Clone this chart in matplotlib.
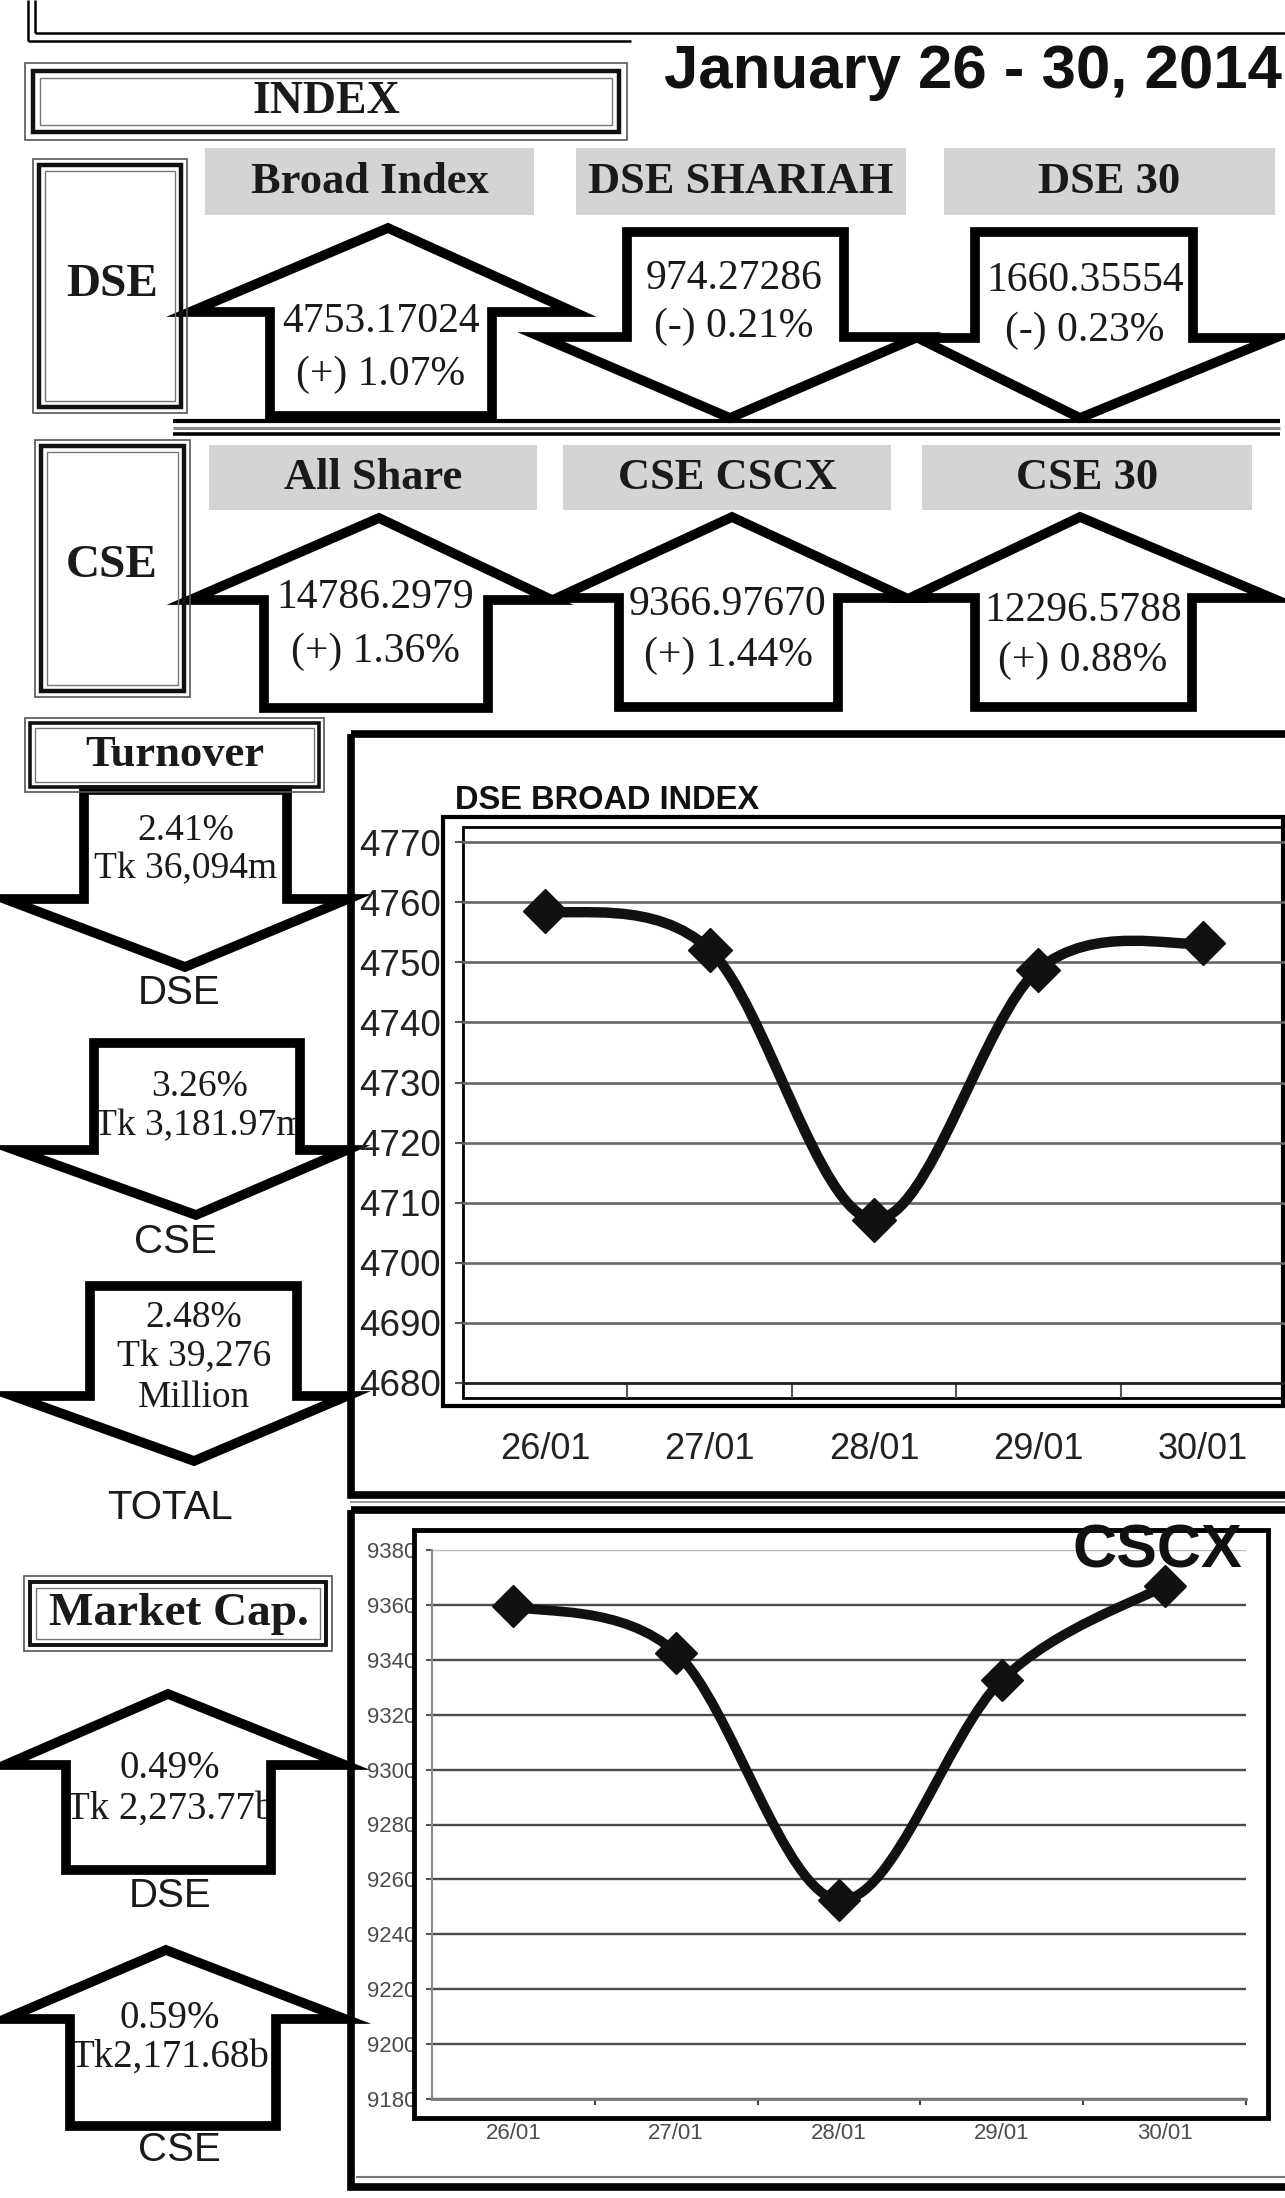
import numpy as np
import matplotlib
matplotlib.use("Agg")
import matplotlib.pyplot as plt
from matplotlib.patches import Polygon, Rectangle, PathPatch
from matplotlib.path import Path

W, H = 1285, 2198

# ---- chart data ----
days = ["26/01", "27/01", "28/01", "29/01", "30/01"]
dse_broad = [4758.6, 4752.1, 4707.2, 4748.8, 4753.17]
cscx = [9359.5, 9342.5, 9252.5, 9332.6, 9366.98]

# ---- index panel ----
dse_names = ["Broad Index", "DSE SHARIAH", "DSE 30"]
dse_values = ["4753.17024", "974.27286", "1660.35554"]
dse_changes = ["(+) 1.07%", "(-) 0.21%", "(-) 0.23%"]
cse_names = ["All Share", "CSE CSCX", "CSE 30"]
cse_values = ["14786.2979", "9366.97670", "12296.5788"]
cse_changes = ["(+) 1.36%", "(+) 1.44%", "(+) 0.88%"]

# ---- turnover / market cap ----
turnover_labels = ["DSE", "CSE", "TOTAL"]
turnover_lines = [["2.41%", "Tk 36,094m"],
                  ["3.26%", "Tk 3,181.97m"],
                  ["2.48%", "Tk 39,276", "Million"]]
mcap_labels = ["DSE", "CSE"]
mcap_lines = [["0.49%", "Tk 2,273.77b"], ["0.59%", "Tk2,171.68b"]]

SERIF = "Liberation Serif"
SANS = "Liberation Sans"

fig = plt.figure(figsize=(W / 100, H / 100), dpi=100)
ax0 = fig.add_axes([0, 0, 1, 1])
ax0.set_xlim(0, W)
ax0.set_ylim(H, 0)
ax0.axis("off")


def line(ax, xs, ys, lw=2.0, color="black", z=5):
    ax.plot(xs, ys, color=color, lw=lw, solid_capstyle="butt", zorder=z)


def framed(ax, x0, y0, x1, y1, gaps=(0, 7, 14), lws=(1.2, 3.2, 1.0)):
    cols = ("#555555", "#111111", "#777777")
    for g, lw, c in zip(gaps, lws, cols):
        ax.add_patch(Rectangle((x0 + g, y0 + g), x1 - x0 - 2 * g, y1 - y0 - 2 * g,
                               fill=False, ec=c, lw=lw, zorder=5))


def arrow(ax, shaft, head, tip, head_y, end_y, lw=7):
    sl, sr = shaft
    hl, hr = head
    pts = [(sl, end_y), (sl, head_y), (hl, head_y), tip, (hr, head_y), (sr, head_y), (sr, end_y)]
    ax.add_patch(Polygon(pts, closed=True, fc="white", ec="none", zorder=2))
    ax.add_patch(Polygon(pts, closed=True, fill=False, ec="black", lw=lw,
                         joinstyle="miter", zorder=4))


def txt(ax, x, y, s, size, family=SERIF, weight="normal", color="#1a1a1a", **kw):
    ax.text(x, y, s, fontsize=size, family=family, fontweight=weight, color=color,
            ha=kw.pop("ha", "center"), va=kw.pop("va", "center"), zorder=3, **kw)


# top banner box
line(ax0, [28, 28], [0, 41], lw=1.8)
line(ax0, [35, 35], [0, 33], lw=1.8)
line(ax0, [35, W], [33, 33], lw=1.8)
line(ax0, [28, 631], [41, 41], lw=1.8)
txt(ax0, 664, 88, "January 26 - 30, 2014", 44.5, family=SANS, weight="bold",
    color="#111111", ha="left", va="baseline")

# INDEX header
framed(ax0, 25, 63, 627, 140, gaps=(0, 8, 15))
txt(ax0, 326, 102, "INDEX", 33, weight="bold")

# DSE / CSE side boxes
framed(ax0, 33, 159, 187, 413, gaps=(0, 6, 12))
txt(ax0, 112, 285, "DSE", 34, weight="bold")
framed(ax0, 35, 440, 190, 697, gaps=(0, 6, 12))
txt(ax0, 112, 566, "CSE", 34, weight="bold")

# gray name tabs
dse_tabs = [(205, 534), (576, 906), (944, 1275)]
cse_tabs = [(209, 537), (563, 891), (922, 1252)]
for (a, b), name in zip(dse_tabs, dse_names):
    ax0.add_patch(Rectangle((a, 148), b - a, 67, fc="#d4d4d4", ec="none", zorder=1))
    txt(ax0, (a + b) / 2, 182, name, 32, weight="bold")
for (a, b), name in zip(cse_tabs, cse_names):
    ax0.add_patch(Rectangle((a, 445), b - a, 65, fc="#d4d4d4", ec="none", zorder=1))
    txt(ax0, (a + b) / 2, 478, name, 32, weight="bold")

# DSE index arrows
arrow(ax0, (270, 492), (190, 574), (388, 228), 312, 416)
arrow(ax0, (627, 844), (541, 918), (730, 418), 337, 232)
arrow(ax0, (975, 1193), (918, 1275), (1080, 418), 338, 232)
dse_text_pos = [(381, 322, 375), (734, 279, 327), (1085, 281, 331)]
for (x, y1, y2), v, c in zip(dse_text_pos, dse_values, dse_changes):
    txt(ax0, x, y1, v, 30)
    txt(ax0, x, y2, c, 30)

# separator between DSE and CSE rows
line(ax0, [173, 1280], [421, 421], lw=3.0)
line(ax0, [173, 1280], [428, 428], lw=2.2, color="#8a8a8a")
line(ax0, [173, 1280], [434, 434], lw=2.6)

# CSE index arrows
arrow(ax0, (264, 488), (190, 552), (379, 518), 600, 708)
arrow(ax0, (619, 838), (557, 906), (732, 517), 598, 707)
arrow(ax0, (975, 1192), (910, 1272), (1080, 517), 598, 707)
cse_text_pos = [(375, 598, 652), (728, 605, 656), (1083, 611, 661)]
for (x, y1, y2), v, c in zip(cse_text_pos, cse_values, cse_changes):
    txt(ax0, x, y1, v, 30)
    txt(ax0, x, y2, c, 30)

# Turnover section
framed(ax0, 25, 718, 324, 792, gaps=(0, 5, 10), lws=(1.2, 2.6, 1.0))
txt(ax0, 175, 755, "Turnover", 32, weight="bold")
t_arrows = [((84, 287), (5, 348), (185, 967), 899, 790),
            ((94, 300), (15, 347), (196, 1215), 1150, 1043),
            ((90, 297), (13, 347), (194, 1461), 1396, 1286)]
t_text_y = [[831, 869], [1087, 1126], [1318, 1357, 1398]]
t_text_x = [186, 200, 194]
t_label_pos = [(179, 993), (175, 1242), (170, 1508)]
for a, ys, x, lines_, lab, (lx, ly) in zip(t_arrows, t_text_y, t_text_x, turnover_lines,
                                           turnover_labels, t_label_pos):
    arrow(ax0, *a)
    for yy, s in zip(ys, lines_):
        txt(ax0, x, yy, s, 27)
    txt(ax0, lx, ly, lab, 29, family=SANS)

# Market cap section
framed(ax0, 24, 1576, 332, 1651, gaps=(0, 6, 12), lws=(1.2, 2.8, 1.0))
txt(ax0, 179, 1614, "Market Cap.", 34, weight="bold")
m_arrows = [((66, 271), (5, 345), (168, 1694), 1765, 1870),
            ((70, 276), (5, 345), (166, 1950), 2019, 2126)]
m_text_y = [[1769, 1809], [2019, 2057]]
m_label_pos = [(170, 1896), (179, 2150)]
for a, ys, lines_, lab, (lx, ly) in zip(m_arrows, m_text_y, mcap_lines, mcap_labels, m_label_pos):
    arrow(ax0, *a)
    for yy, s in zip(ys, lines_):
        txt(ax0, 170, yy, s, 28)
    txt(ax0, lx, ly, lab, 29, family=SANS)

# chart panels
ax0.add_patch(Rectangle((351, 734), 1000, 761, fill=False, ec="black", lw=5.5, zorder=5))
line(ax0, [350, W], [1502, 1502], lw=1.2, color="#888888")
ax0.add_patch(Rectangle((351, 1510), 1000, 677, fill=False, ec="black", lw=5.5, zorder=5))
line(ax0, [356, W], [2177, 2177], lw=1.5, color="#777777")

# DSE chart frame
ax0.add_patch(Rectangle((443, 817), 1283 - 443, 1406 - 817, fill=False, ec="black", lw=3.0, zorder=5))
ax0.add_patch(Rectangle((463, 827), 1283 - 463, 1398 - 827, fill=False, ec="black", lw=2.0, zorder=5))
txt(ax0, 455, 809, "DSE BROAD INDEX", 23.5, family=SANS, weight="bold",
    color="#111111", ha="left", va="baseline")


def smooth_path(xs, ys):
    pts = np.column_stack([xs, ys]).astype(float)
    ext = np.vstack([pts[0], pts, pts[-1]])
    verts = [tuple(pts[0])]
    codes = [Path.MOVETO]
    for i in range(len(pts) - 1):
        p0, p1, p2, p3 = ext[i], ext[i + 1], ext[i + 2], ext[i + 3]
        verts += [tuple(p1 + (p2 - p0) / 6), tuple(p2 - (p3 - p1) / 6), tuple(p2)]
        codes += [Path.CURVE4] * 3
    return Path(verts, codes)


x = np.arange(len(days))

# DSE broad index chart
ax1 = fig.add_axes([463 / W, 1 - 1383 / H, (1285 - 463) / W, (1383 - 827) / H], zorder=2)
ax1.set_facecolor("none")
ax1.set_xlim(-0.5, 4.5)
ax1.set_ylim(4680, 4680 + 556 / 6.01)
ax1.set_yticks(range(4680, 4771, 10))
ax1.set_xticks(x)
ax1.set_xticklabels(days)
ax1.set_xticks([0.5, 1.5, 2.5, 3.5], minor=True)
ax1.tick_params(axis="x", which="major", length=0, pad=35, labelsize=26, labelcolor="#222222")
ax1.tick_params(axis="x", which="minor", length=11, width=1.5, direction="out", color="#555555")
ax1.tick_params(axis="y", length=6, width=1.5, pad=10, labelsize=26.5, labelcolor="#222222",
                color="#555555")
for lab in ax1.get_xticklabels() + ax1.get_yticklabels():
    lab.set_family(SANS)
for s in ("top", "right", "left"):
    ax1.spines[s].set_visible(False)
ax1.spines["bottom"].set_color("#222222")
ax1.spines["bottom"].set_linewidth(2.0)
ax1.grid(axis="y", color="#666666", lw=1.9)
ax1.set_axisbelow(True)
ax1.add_patch(PathPatch(smooth_path(x, dse_broad), fill=False, ec="#111111", lw=7.5,
                        capstyle="round", joinstyle="round", zorder=3))
ax1.plot(x, dse_broad, "D", ms=22, color="#111111", zorder=4, clip_on=False)

# CSCX chart
ax2 = fig.add_axes([432 / W, 1 - 2099 / H, (1246 - 432) / W, (2099 - 1550) / H], zorder=2)
ax2.set_facecolor("none")
ax2.set_xlim(-0.5, 4.5)
ax2.set_ylim(9180, 9380)
ax2.set_yticks(range(9180, 9381, 20))
ax2.set_xticks(x)
ax2.set_xticklabels(days)
ax2.set_xticks([0.5, 1.5, 2.5, 3.5, 4.5], minor=True)
ax2.tick_params(axis="x", which="major", length=0, pad=17, labelsize=16, labelcolor="#4d4d4d")
ax2.tick_params(axis="x", which="minor", length=4, width=1.5, direction="out", color="#444444")
ax2.tick_params(axis="y", length=4, width=1.5, pad=7, labelsize=16, labelcolor="#4d4d4d",
                color="#555555")
for lab in ax2.get_xticklabels() + ax2.get_yticklabels():
    lab.set_family(SANS)
for s in ("top", "right"):
    ax2.spines[s].set_visible(False)
ax2.spines["left"].set_color("#8c8c8c")
ax2.spines["left"].set_linewidth(1.5)
ax2.spines["bottom"].set_color("#777777")
ax2.spines["bottom"].set_linewidth(2.0)
ax2.grid(axis="y", color="#4a4a4a", lw=1.7)
ax2.get_ygridlines()[-1].set_color("#bbbbbb")
ax2.set_axisbelow(True)
ax2.add_patch(PathPatch(smooth_path(x, cscx), fill=False, ec="#111111", lw=7,
                        capstyle="round", joinstyle="round", zorder=3, clip_on=False))
ax2.plot(x, cscx, "D", ms=21, color="#111111", zorder=4, clip_on=False)

# overlay: CSCX frame and title
ax3 = fig.add_axes([0, 0, 1, 1], zorder=5)
ax3.set_xlim(0, W)
ax3.set_ylim(H, 0)
ax3.axis("off")
ax3.add_patch(Rectangle((414, 1530), 1268 - 414, 2118 - 1530, fill=False, ec="black", lw=3.5))
ax3.text(1157, 1567, "CSCX", fontsize=44, family=SANS, fontweight="bold", color="#111111",
         ha="center", va="baseline")

fig.savefig("out.png", dpi=100)
